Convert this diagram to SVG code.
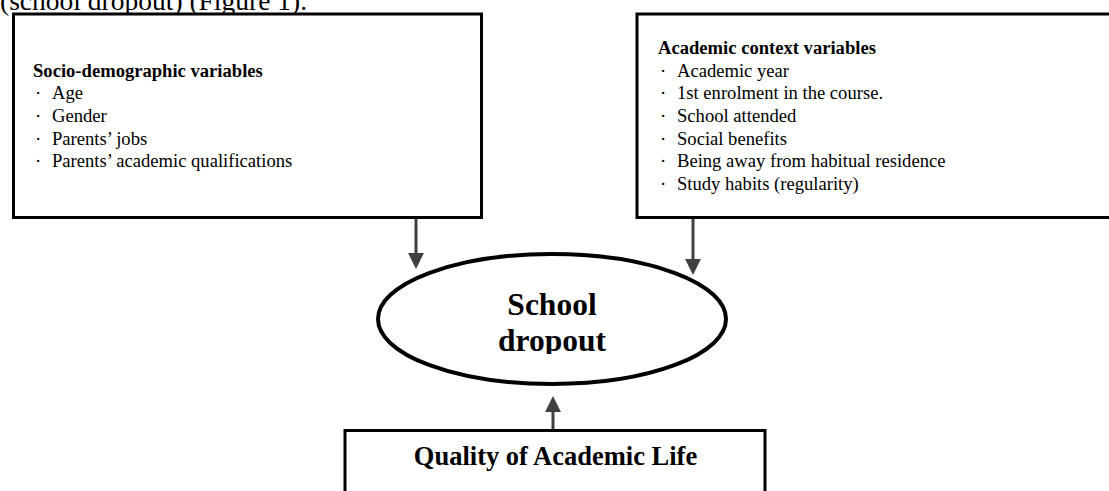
<svg xmlns="http://www.w3.org/2000/svg" width="1109" height="491" viewBox="0 0 1109 491">
<style>
.box{fill:#fff;stroke:#000;stroke-width:3}
.t{font-family:"Liberation Serif","Times New Roman",serif;fill:#000}
.b{font-weight:bold}
.item{font-size:18.6px}
.conn{stroke:#404040;stroke-width:3;fill:none}
</style>
<defs>
<marker id="ah" markerWidth="5.3" markerHeight="5.3" refX="0" refY="2.65" orient="auto" markerUnits="strokeWidth">
<path d="M0,0 L5.3,2.65 L0,5.3 Z" fill="#404040"/>
</marker>
<clipPath id="elclip"><rect x="0" y="0" width="1109" height="354"/></clipPath>
</defs>
<rect width="1109" height="491" fill="#fff"/>
<text class="t" x="0" y="10" font-size="27.5px">(school dropout) (Figure 1).</text>

<g id="socio">
<rect class="box" x="13.5" y="14" width="468" height="203.5"/>
<text class="t b item" x="33" y="76.5">Socio-demographic variables</text>
<g class="t item">
<text x="35" y="99">·</text><text x="52" y="99">Age</text>
<text x="35" y="122">·</text><text x="52" y="122">Gender</text>
<text x="35" y="144.5">·</text><text x="52" y="144.5">Parents’ jobs</text>
<text x="35" y="167">·</text><text x="52" y="167">Parents’ academic qualifications</text>
</g>
</g>

<g id="academic">
<rect class="box" x="637" y="14" width="480" height="203.5"/>
<text class="t b item" x="658" y="53.5">Academic context variables</text>
<g class="t item">
<text x="660" y="76.5">·</text><text x="677" y="76.5">Academic year</text>
<text x="660" y="99">·</text><text x="677" y="99">1st enrolment in the course.</text>
<text x="660" y="122">·</text><text x="677" y="122">School attended</text>
<text x="660" y="144.5">·</text><text x="677" y="144.5">Social benefits</text>
<text x="660" y="167">·</text><text x="677" y="167">Being away from habitual residence</text>
<text x="660" y="189.5">·</text><text x="677" y="189.5">Study habits (regularity)</text>
</g>
</g>

<g id="dropout">
<ellipse cx="552" cy="319" rx="174" ry="65" fill="#fff" stroke="#000" stroke-width="4"/>
<g clip-path="url(#elclip)">
<text class="t b" x="552" y="315" font-size="31.5px" text-anchor="middle">School</text>
<text class="t b" x="552" y="351" font-size="31.5px" text-anchor="middle">dropout</text>
</g>
</g>

<g id="quality">
<rect class="box" x="345" y="430.5" width="420" height="80"/>
<text class="t b" x="555.5" y="465" font-size="26.5px" text-anchor="middle">Quality of Academic Life</text>
</g>

<g id="connectors">
<line class="conn" x1="416" y1="219" x2="416" y2="253" marker-end="url(#ah)"/>
<line class="conn" x1="693" y1="219" x2="693" y2="259" marker-end="url(#ah)"/>
<line class="conn" x1="553" y1="429" x2="553" y2="412" marker-end="url(#ah)"/>
</g>
</svg>
